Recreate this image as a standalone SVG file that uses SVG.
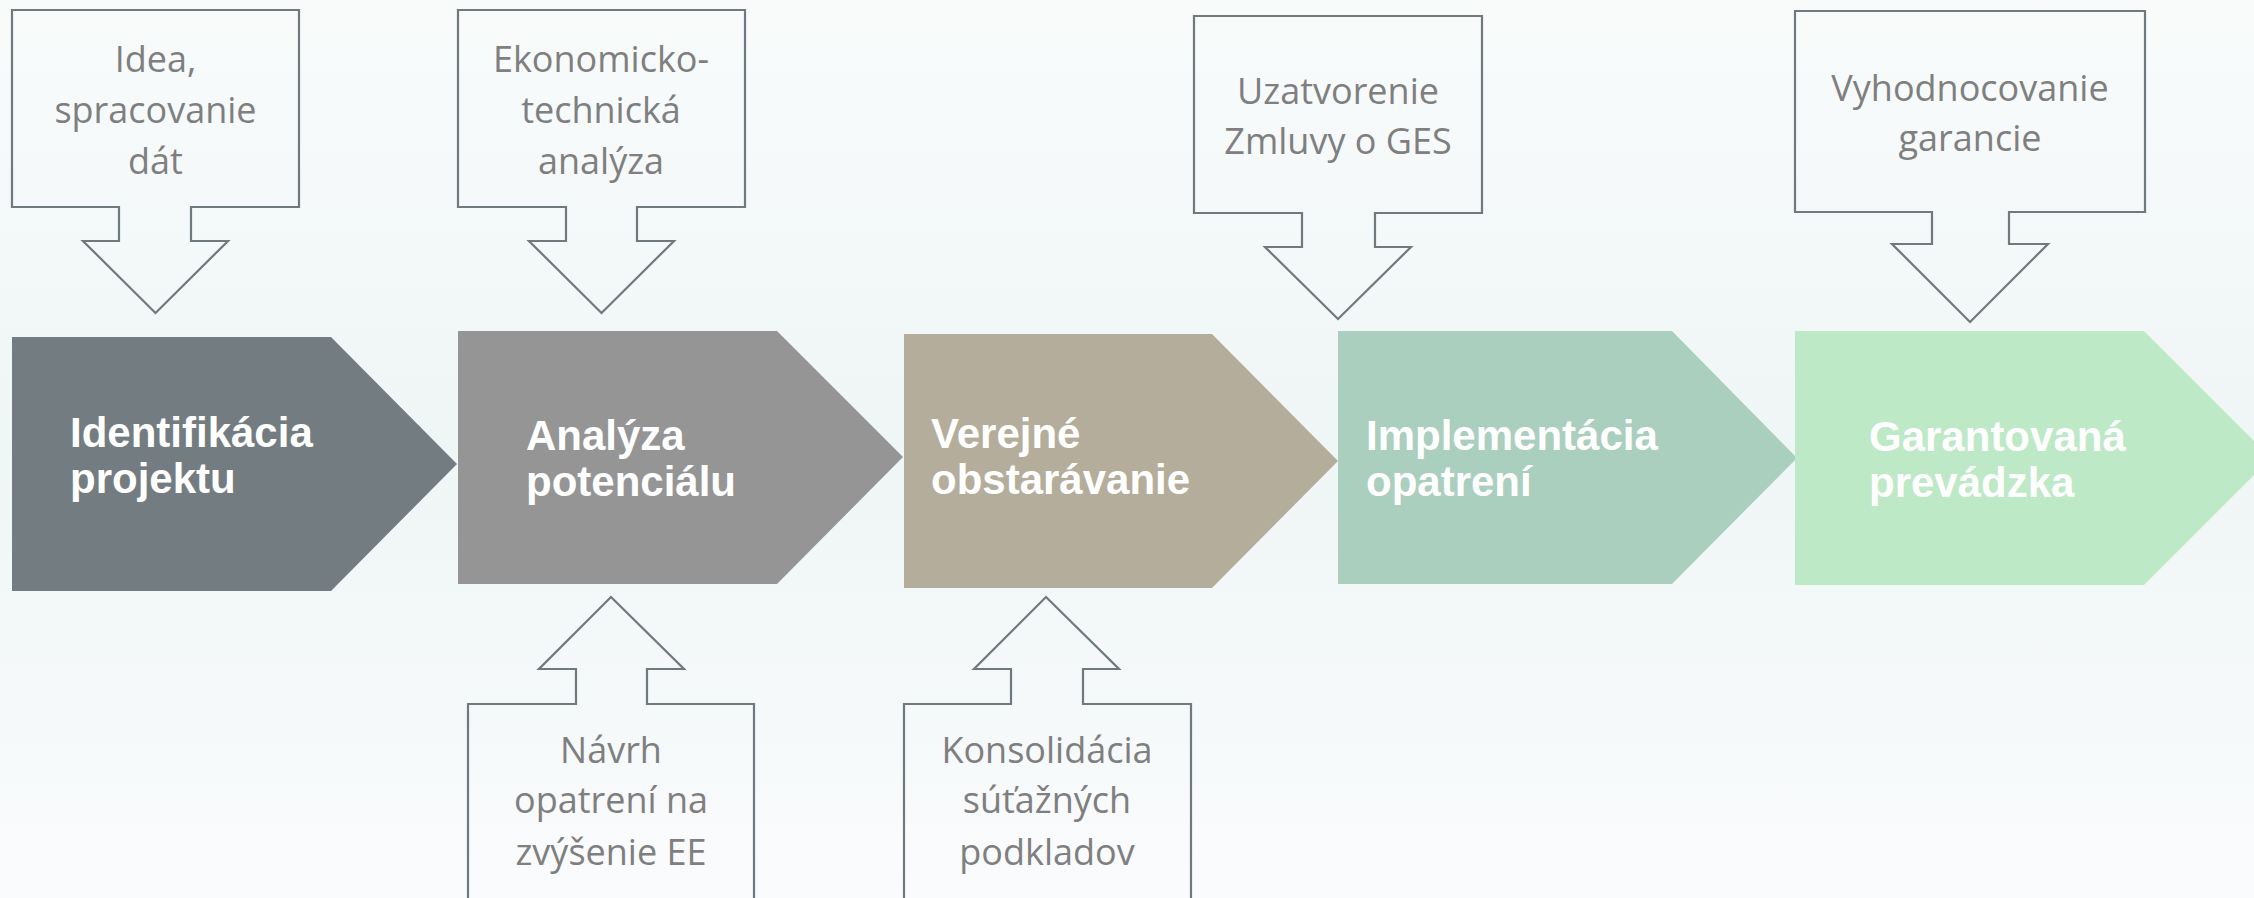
<svg xmlns="http://www.w3.org/2000/svg" width="2254" height="898" viewBox="0 0 2254 898">
  <defs>
    <linearGradient id="bg" x1="0" y1="0" x2="0" y2="1">
      <stop offset="0" stop-color="#f9fbfb"/>
      <stop offset="0.5" stop-color="#eff6f6"/>
      <stop offset="1" stop-color="#fafbfd"/>
    </linearGradient>
    <style>
      .callout { fill: none; stroke: #6f7a7e; stroke-width: 2.2; stroke-linejoin: miter; }
      .ctext { font-family: "Open Sans", "Liberation Sans", sans-serif; font-size: 36px; fill: #7f7f7f; text-anchor: middle; }
      .step { font-family: "Liberation Sans", Arial, sans-serif; font-size: 42px; font-weight: bold; fill: #ffffff; }
    </style>
  </defs>
  <rect x="0" y="0" width="2254" height="898" fill="url(#bg)"/>

  <g id="steps">
    <g id="step1">
      <polygon points="12,337 331,337 457,464 331,591 12,591" fill="#737d81"/>
      <text class="step" x="70" y="447">Identifikácia</text>
      <text class="step" x="70" y="493">projektu</text>
    </g>
    <g id="step2">
      <polygon points="458,331 777,331 903,457 777,584 458,584" fill="#959595"/>
      <text class="step" x="526" y="450">Analýza</text>
      <text class="step" x="526" y="496">potenciálu</text>
    </g>
    <g id="step3">
      <polygon points="904,334 1212,334 1338,461 1212,588 904,588" fill="#b5ad9b"/>
      <text class="step" x="931" y="448">Verejné</text>
      <text class="step" x="931" y="494">obstarávanie</text>
    </g>
    <g id="step4">
      <polygon points="1338,331 1672,331 1797,458 1672,584 1338,584" fill="#aacfbe"/>
      <text class="step" x="1366" y="450">Implementácia</text>
      <text class="step" x="1366" y="496">opatrení</text>
    </g>
    <g id="step5">
      <polygon points="1795,331 2144,331 2271,458 2144,585 1795,585" fill="#bde9c6"/>
      <text class="step" x="1869" y="451">Garantovaná</text>
      <text class="step" x="1869" y="497">prevádzka</text>
    </g>
  </g>

  <g id="connectors">
    <g id="callout-idea">
      <path class="callout" d="M12,10 H299 V207 H191 V241 H228 L155.5,313 L83,241 H119 V207 H12 Z"/>
      <text class="ctext" x="155.5" y="72">Idea,</text>
      <text class="ctext" x="155.5" y="123">spracovanie</text>
      <text class="ctext" x="155.5" y="174">dát</text>
    </g>
    <g id="callout-ekon">
      <path class="callout" d="M458,10 H745 V207 H637 V241 H674 L601.5,313 L529,241 H566 V207 H458 Z"/>
      <text class="ctext" x="601" y="72">Ekonomicko-</text>
      <text class="ctext" x="601" y="123">technická</text>
      <text class="ctext" x="601" y="174">analýza</text>
    </g>
    <g id="callout-zmluva">
      <path class="callout" d="M1194,16 H1482 V213 H1375 V247 H1411 L1338,319 L1265,247 H1302 V213 H1194 Z"/>
      <text class="ctext" x="1338" y="104">Uzatvorenie</text>
      <text class="ctext" x="1338" y="154">Zmluvy o GES</text>
    </g>
    <g id="callout-garancia">
      <path class="callout" d="M1795,11 H2145 V212 H2009 V244 H2048 L1970,322 L1892,244 H1932 V212 H1795 Z"/>
      <text class="ctext" x="1970" y="101">Vyhodnocovanie</text>
      <text class="ctext" x="1970" y="151">garancie</text>
    </g>
    <g id="callout-navrh">
      <path class="callout" d="M611,597 L684,669 H647 V704 H754 V912 H468 V704 H576 V669 H539 Z"/>
      <text class="ctext" x="611" y="763">Návrh</text>
      <text class="ctext" x="611" y="813">opatrení na</text>
      <text class="ctext" x="611" y="865">zvýšenie EE</text>
    </g>
    <g id="callout-konsolidacia">
      <path class="callout" d="M1046,597 L1119,669 H1083 V704 H1191 V912 H904 V704 H1011 V669 H974 Z"/>
      <text class="ctext" x="1047" y="763">Konsolidácia</text>
      <text class="ctext" x="1047" y="813">súťažných</text>
      <text class="ctext" x="1047" y="865">podkladov</text>
    </g>
  </g>
</svg>
